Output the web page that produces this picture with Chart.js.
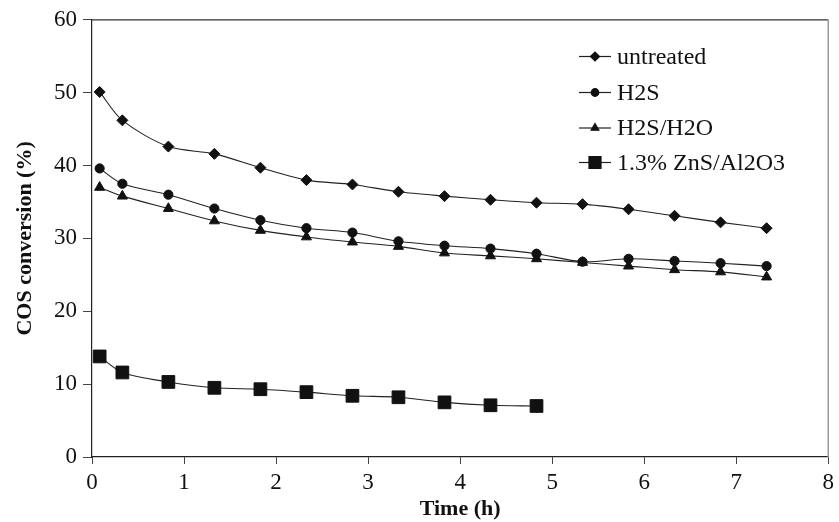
<!DOCTYPE html>
<html>
<head>
<meta charset="utf-8">
<script src="https://cdn.jsdelivr.net/npm/chart.js@4.4.1/dist/chart.umd.min.js"></script>
<style>
  html, body { margin: 0; padding: 0; background: #fff; }
  #wrap { width: 839px; height: 522px; position: relative; }
</style>
</head>
<body>
<div id="wrap"><canvas id="c" width="839" height="522"></canvas></div>
<script>
const timesLong = [0.083, 0.33, 0.83, 1.33, 1.83, 2.33, 2.83, 3.33, 3.83, 4.33, 4.83, 5.33, 5.83, 6.33, 6.83, 7.33];
const timesShort = [0.083, 0.33, 0.83, 1.33, 1.83, 2.33, 2.83, 3.33, 3.83, 4.33, 4.83];
const untreated = [50.1, 46.2, 42.6, 41.6, 39.7, 38.0, 37.4, 36.4, 35.8, 35.3, 34.9, 34.7, 34.0, 33.1, 32.2, 31.4];
const h2s = [39.6, 37.5, 36.0, 34.1, 32.5, 31.4, 30.8, 29.6, 29.0, 28.6, 27.9, 26.8, 27.2, 26.9, 26.6, 26.2];
const h2sH2o = [37.0, 35.8, 34.1, 32.4, 31.1, 30.2, 29.5, 28.9, 28.0, 27.6, 27.2, 26.7, 26.2, 25.7, 25.4, 24.7];
const znsAl2o3 = [13.8, 11.6, 10.3, 9.5, 9.3, 8.9, 8.4, 8.2, 7.5, 7.1, 7.0];
const seriesLabels = ["untreated", "H2S", "H2S/H2O", "1.3% ZnS/Al2O3"];
const xTicks = [0, 1, 2, 3, 4, 5, 6, 7, 8];
const yTicks = [0, 10, 20, 30, 40, 50, 60];

const FONT = "'Liberation Serif', 'Times New Roman', serif";
const toXY = (xs, ys) => xs.map((x, i) => ({ x: x, y: ys[i] }));

function mk(label, data, style, radius) {
  return {
    label: label,
    data: data,
    borderColor: '#222',
    borderWidth: 1.1,
    backgroundColor: '#111',
    pointBackgroundColor: '#111',
    pointBorderColor: '#111',
    pointBorderWidth: 1,
    pointStyle: style,
    pointRadius: radius,
    pointHoverRadius: radius,
    tension: 0.3,
    fill: false
  };
}

const boxPlugin = {
  id: 'box',
  afterDatasetsDraw(chart) {
    const { ctx, chartArea: a } = chart;
    ctx.save();
    ctx.lineWidth = 1.2;
    ctx.strokeStyle = '#333';
    ctx.beginPath();
    ctx.moveTo(a.left, a.top);
    ctx.lineTo(a.right, a.top);
    ctx.stroke();
    ctx.strokeStyle = '#999';
    ctx.lineWidth = 1.5;
    ctx.beginPath();
    ctx.moveTo(a.right, a.top);
    ctx.lineTo(a.right, a.bottom);
    ctx.stroke();
    ctx.restore();
  }
};

const legendPlugin = {
  id: 'customLegend',
  afterDraw(chart) {
    const { ctx } = chart;
    const x0 = 579, x1 = 611, tx = 617;
    const ys = [56.5, 92.5, 128, 162.5];
    ctx.save();
    chart.data.datasets.forEach((ds, i) => {
      const y = ys[i];
      ctx.strokeStyle = '#222';
      ctx.lineWidth = 1.2;
      ctx.beginPath();
      ctx.moveTo(x0, y);
      ctx.lineTo(x1, y);
      ctx.stroke();
      ctx.fillStyle = '#111';
      ctx.strokeStyle = '#111';
      Chart.helpers.drawPoint(ctx, {
        pointStyle: ds.pointStyle,
        radius: ds.pointStyle === 'rect' ? 8.5 : (ds.pointStyle === 'circle' ? 3.8 : 4.5),
        borderWidth: 1,
        rotation: 0
      }, (x0 + x1) / 2, y);
      ctx.fillStyle = '#111';
      ctx.font = "24px " + FONT;
      ctx.textAlign = 'left';
      ctx.textBaseline = 'middle';
      ctx.fillText(ds.label, tx, y + 1);
    });
    ctx.restore();
  }
};

new Chart(document.getElementById('c'), {
  type: 'line',
  data: {
    datasets: [
      mk(seriesLabels[0], toXY(timesLong, untreated), 'rectRot', 5.5),
      mk(seriesLabels[1], toXY(timesLong, h2s), 'circle', 4.6),
      mk(seriesLabels[2], toXY(timesLong, h2sH2o), 'triangle', 5.8),
      mk(seriesLabels[3], toXY(timesShort, znsAl2o3), 'rect', 9)
    ]
  },
  options: {
    responsive: false,
    animation: false,
    devicePixelRatio: 1,
    layout: { padding: { top: 19, right: 7, left: 0, bottom: 0 } },
    plugins: {
      legend: { display: false },
      tooltip: { enabled: false }
    },
    scales: {
      x: {
        type: 'linear',
        min: 0, max: 8,
        afterBuildTicks(s) { s.ticks = xTicks.map(v => ({ value: v })); },
        afterFit(s) { s.height = 65; },
        border: { display: true, color: '#222', width: 1.2 },
        grid: { display: true, drawOnChartArea: false, drawTicks: true, tickLength: 7, color: '#444', lineWidth: 1 },
        ticks: { color: '#111', font: { family: FONT, size: 23 }, padding: 5, maxRotation: 0 },
        title: { display: true, text: 'Time (h)', color: '#111', font: { family: FONT, size: 22, weight: 'bold', lineHeight: 1 }, padding: { top: 1.5, bottom: 1.5 } }
      },
      y: {
        type: 'linear',
        min: 0, max: 60,
        afterBuildTicks(s) { s.ticks = yTicks.map(v => ({ value: v })); },
        afterFit(s) { s.width = 92; },
        border: { display: true, color: '#222', width: 1.2 },
        grid: { display: true, drawOnChartArea: false, drawTicks: true, tickLength: 9, color: '#444', lineWidth: 1 },
        ticks: { color: '#111', font: { family: FONT, size: 23 }, padding: 6 },
        title: { display: true, text: 'COS conversion (%)', color: '#111', font: { family: FONT, size: 22, weight: 'bold', lineHeight: 1 }, padding: { top: 14.5, bottom: 0 } }
      }
    }
  },
  plugins: [boxPlugin, legendPlugin]
});
</script>
</body>
</html>
